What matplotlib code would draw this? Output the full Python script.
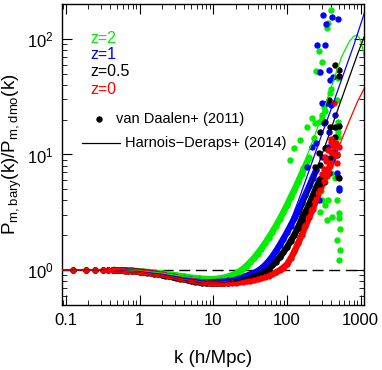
import matplotlib
matplotlib.use('Agg')
import matplotlib.pyplot as plt
from matplotlib.ticker import FixedLocator, FixedFormatter, LogLocator, NullFormatter

plt.rcParams['font.family'] = ['Liberation Sans', 'DejaVu Sans']
plt.rcParams['mathtext.default'] = 'regular'

GREEN = '#00ee00'
BLUE = '#0000ff'
BLACK = '#000000'
RED = '#ff0000'

# van Daalen+ (2011) k values (h/Mpc)
k_band = [0.126, 0.188, 0.251, 0.314, 0.377, 0.44, 0.50, 0.57, 0.63, 0.70, 0.79, 0.89,
          1.0, 1.12, 1.26, 1.41, 1.58, 1.78, 2.0, 2.24, 2.51, 2.82, 3.16, 3.55, 3.98,
          4.47, 5.01, 5.62, 6.31, 7.08, 7.94, 8.91, 10.0, 11.2, 12.6, 14.1, 15.8, 17.8,
          20.0, 22.4, 25.1, 28.2, 31.6, 35.5, 39.8, 44.7, 50.1, 56.2, 63.1, 70.8, 79.4,
          89.1, 100, 112, 126, 141, 158, 178, 200, 224, 251, 282, 316, 355, 398, 447]

r_z2 = [1.0, 1.0, 1.0, 1.0, 1.0, 1.0, 0.998, 0.996, 0.994, 0.992, 0.988, 0.982,
        0.977, 0.971, 0.965, 0.958, 0.951, 0.943, 0.935, 0.927, 0.918, 0.909, 0.900,
        0.890, 0.880, 0.871, 0.862, 0.854, 0.847, 0.842, 0.838, 0.836, 0.837, 0.842,
        0.85, 0.862, 0.878, 0.9, 0.93, 0.97, 1.02, 1.09, 1.17, 1.27, 1.39, 1.53, 1.70,
        1.90, 2.13, 2.42, 2.75, 3.15, 3.65, 4.25, 4.95, 5.8, 6.8, 8.0, 9.4]
r_z1 = [1.0, 1.0, 1.0, 1.0, 1.0, 1.0, 0.997, 0.995, 0.992, 0.989, 0.984, 0.977,
        0.97, 0.963, 0.955, 0.946, 0.937, 0.927, 0.917, 0.906, 0.895, 0.884, 0.873,
        0.862, 0.851, 0.841, 0.831, 0.822, 0.814, 0.807, 0.802, 0.799, 0.798, 0.799,
        0.803, 0.806, 0.815, 0.826, 0.84, 0.855, 0.872, 0.892, 0.916, 0.945, 0.98,
        1.03, 1.1, 1.19, 1.31, 1.46, 1.64, 1.86, 2.12, 2.43, 2.8, 3.25, 3.8, 4.5,
        5.3, 6.3, 7.4]
r_z05 = [1.0, 1.0, 1.0, 1.0, 1.0, 1.0, 0.997, 0.994, 0.991, 0.987, 0.982, 0.975,
         0.967, 0.959, 0.95, 0.94, 0.929, 0.918, 0.906, 0.894, 0.881, 0.868, 0.855,
         0.842, 0.83, 0.818, 0.806, 0.795, 0.786, 0.778, 0.772, 0.768, 0.766, 0.766,
         0.768, 0.772, 0.778, 0.786, 0.796, 0.808, 0.822, 0.838, 0.857, 0.88, 0.907,
         0.94, 0.98, 1.03, 1.1, 1.18, 1.29, 1.42, 1.58, 1.78, 2.02, 2.32, 2.7, 3.15,
         3.7, 4.4, 5.2, 6.1]
r_z0 = [1.0, 1.0, 1.0, 1.0, 1.0, 1.0, 0.997, 0.994, 0.991, 0.988, 0.983, 0.977,
        0.97, 0.963, 0.955, 0.946, 0.937, 0.927, 0.916, 0.905, 0.893, 0.881, 0.869,
        0.857, 0.845, 0.833, 0.822, 0.811, 0.801, 0.792, 0.785, 0.779, 0.775, 0.772,
        0.771, 0.771, 0.772, 0.775, 0.779, 0.785, 0.792, 0.80, 0.81, 0.822, 0.836,
        0.852, 0.872, 0.895, 0.922, 0.955, 0.995, 1.05, 1.12, 1.26, 1.45, 1.7, 2.0,
        2.4, 2.85, 3.4, 4.1, 4.9, 5.9, 7.1, 8.5, 10.0]

# scattered high-k points
sc_k_z2 = [398, 360, 350, 275, 295, 245, 275, 490, 390, 330, 490, 240, 300, 490, 490,
           490, 390, 452, 292, 330, 298, 365, 480, 282, 330, 500, 407, 515, 350, 525,
           470, 525, 515, 218, 270, 186, 151, 123, 110, 166, 386, 480, 316, 296, 230]
sc_r_z2 = [178, 137, 123, 78, 63, 53, 52, 46, 37, 24, 19, 18.6, 20.5, 17.4, 15.8,
           14.3, 6.9, 6.2, 4.8, 5.8, 4.0, 4.0, 4.0, 3.2, 3.65, 3.1, 2.9, 2.8, 2.7, 2.25,
           1.82, 1.49, 1.22, 20.6, 19.2, 17.4, 13.4, 11.3, 8.9, 7.6, 33.9, 29.6, 26, 22, 14]
sc_k_z1 = [307, 407, 490, 340, 257, 282, 386, 398, 365, 515, 515, 270, 366, 427, 330,
           296, 347, 452, 316, 366, 218, 296, 407, 480, 186, 250, 440]
sc_r_z1 = [161, 156, 148, 135, 89, 52, 44, 27, 11.7, 5.1, 4.9, 4.0, 54, 47, 89,
           27.7, 27.7, 22, 18.6, 15.8, 11.7, 9.6, 8.9, 6.9, 7.8, 12.5, 10.5]
sc_k_z05 = [452, 500, 515, 366, 515, 452, 330, 386, 282, 490, 282, 386, 282, 330, 452,
            270, 427, 366, 500, 240, 316, 480]
sc_r_z05 = [60, 54, 48, 29.6, 17.8, 14.3, 11.3, 9.3, 8.1, 6.4, 5.4, 17.4, 15.8, 19.2,
            17.4, 10.2, 12.5, 6.9, 6.2, 7.8, 5.8, 9.8]
sc_k_z0 = [330, 360, 380, 400, 420, 440, 460, 480, 470, 435, 300, 350, 400, 500, 455,
           320, 340, 390]
sc_r_z0 = [9.5, 11, 8, 10.5, 12, 11.5, 12.5, 10, 8.5, 27.7, 6.8, 6.5, 12.8, 11.5, 9.8,
           7.5, 8.8, 13.5]

# Harnois-Deraps+ (2014) fits
hd_k_z2 = [0.09, 0.3, 1, 2, 4, 8, 12, 20, 30, 50, 70, 90, 110, 160, 255, 386, 550, 700,
           800, 890, 960, 1040, 1120]
hd_r_z2 = [1.0, 1.0, 0.98, 0.94, 0.88, 0.84, 0.86, 0.97, 1.17, 1.72, 2.45, 3.2, 4.0,
           7.5, 16.5, 36, 70, 95, 105, 108, 102, 88, 70]
hd_k_z1 = [0.09, 0.3, 1, 2, 4, 8, 12, 20, 30, 45, 70, 100, 143, 200, 300, 400, 600, 800,
           1120]
hd_r_z1 = [1.0, 1.0, 0.97, 0.92, 0.85, 0.80, 0.80, 0.84, 0.91, 1.04, 1.45, 2.2, 4.0,
           7.3, 15.2, 25, 52, 87, 167]
hd_k_z05 = [0.09, 0.3, 1, 2, 4, 8, 12, 20, 30, 50, 80, 100, 140, 178, 250, 350, 500,
            700, 900, 1120]
hd_r_z05 = [1.0, 1.0, 0.96, 0.90, 0.82, 0.765, 0.77, 0.80, 0.86, 0.99, 1.27, 1.62, 2.6,
            4.0, 7.3, 13.3, 25.5, 46.5, 73, 105]
hd_k_z0 = [0.09, 0.3, 1, 2, 4, 8, 14, 25, 40, 60, 85, 120, 170, 210, 257, 350, 500, 700,
           900, 1120]
hd_r_z0 = [1.0, 1.0, 0.96, 0.90, 0.83, 0.775, 0.77, 0.79, 0.84, 0.93, 1.03, 1.35, 2.2,
           2.9, 4.0, 6.4, 11.5, 19.5, 28.5, 37.4]

series = [
    (r_z2, sc_k_z2, sc_r_z2, hd_k_z2, hd_r_z2, GREEN, 'z=2'),
    (r_z1, sc_k_z1, sc_r_z1, hd_k_z1, hd_r_z1, BLUE, 'z=1'),
    (r_z05, sc_k_z05, sc_r_z05, hd_k_z05, hd_r_z05, BLACK, 'z=0.5'),
    (r_z0, sc_k_z0, sc_r_z0, hd_k_z0, hd_r_z0, RED, 'z=0'),
]

fig = plt.figure(figsize=(3.82, 3.70), dpi=100)
ax = fig.add_axes([0.162, 0.176, 0.791, 0.813])

ax.axhline(1.0, color='black', lw=1, dashes=(8, 4), zorder=1)

for r, sk, sr, hk, hr, col, lab in series:
    kk = k_band[:len(r)]
    ax.plot(kk[5:], r[5:], '-', color=col, lw=4.6, solid_capstyle='round', zorder=2)
    ax.plot(kk, r, 'o', color=col, ms=4.6, mew=0, zorder=3)
    ax.plot(sk, sr, 'o', color=col, ms=4.6, mew=0, zorder=3)

for r, sk, sr, hk, hr, col, lab in series:
    ax.plot(hk, hr, '-', color=col, lw=0.9, zorder=4)

ax.set_xscale('log')
ax.set_yscale('log')
ax.set_xlim(0.088, 1110)
ax.set_ylim(0.5, 200)

ax.xaxis.set_major_locator(FixedLocator([0.1, 1, 10, 100, 1000]))
ax.xaxis.set_major_formatter(FixedFormatter(['0.1', '1', '10', '100', '1000']))
ax.xaxis.set_minor_locator(LogLocator(base=10, subs=range(2, 10)))
ax.xaxis.set_minor_formatter(NullFormatter())
ax.yaxis.set_minor_locator(LogLocator(base=10, subs=range(2, 10)))
ax.yaxis.set_minor_formatter(NullFormatter())

ax.tick_params(which='both', direction='in', top=True, right=True, labelsize=12)
ax.tick_params(which='major', length=7, width=0.8, pad=6)
ax.tick_params(which='minor', length=3.5, width=0.6)
for s in ax.spines.values():
    s.set_linewidth(1.0)

ax.set_xlabel('k (h/Mpc)', fontsize=13.5, labelpad=16)
ax.set_ylabel('P$_{m,bary}$(k)/P$_{m,dmo}$(k)', fontsize=13.5, labelpad=2)

ytexts = [0.886, 0.831, 0.775, 0.717]
for (r, sk, sr, hk, hr, col, lab), yy in zip(series, ytexts):
    ax.text(0.093, yy, lab, color=col, fontsize=11.5, va='center', ha='left',
            transform=ax.transAxes)

ax.plot([0.1215], [0.617], 'o', color='black', ms=4.6, mew=0, transform=ax.transAxes)
ax.text(0.179, 0.617, 'van Daalen+ (2011)', fontsize=10.5, va='center', ha='left',
        transform=ax.transAxes)
ax.plot([0.065, 0.192], [0.539, 0.539], '-', color='black', lw=0.9,
        transform=ax.transAxes)
ax.text(0.2086, 0.539, 'Harnois\u2212Deraps+ (2014)', fontsize=10.5, va='center',
        ha='left', transform=ax.transAxes)

fig.savefig('out.png', dpi=100)
